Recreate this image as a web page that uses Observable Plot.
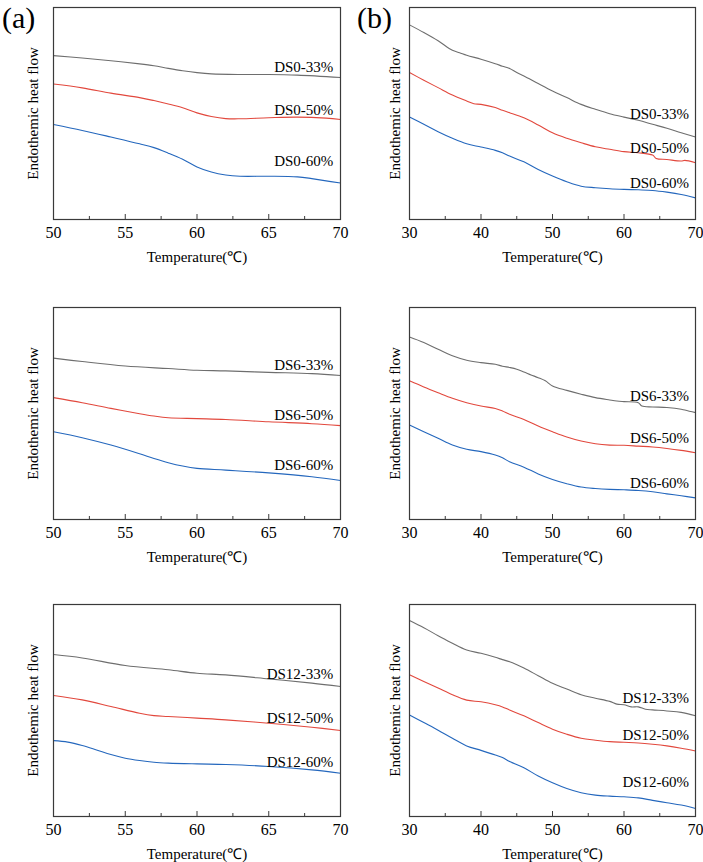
<!DOCTYPE html>
<html><head><meta charset="utf-8">
<script src="https://cdn.jsdelivr.net/npm/d3@7"></script>
<script src="https://cdn.jsdelivr.net/npm/@observablehq/plot@0.6"></script>
<style>
body{margin:0;background:#fff;}
#wrap{position:relative;width:703px;height:862px;overflow:hidden;font-family:"Liberation Serif","Times New Roman",serif;color:#000;}
.p{position:absolute;}
.p svg, .p svg text{font-family:"Liberation Serif","Times New Roman",serif !important;}
.tag{position:absolute;font-size:30px;line-height:36px;font-family:"Liberation Serif","Times New Roman",serif;}
</style></head><body><div id="wrap"></div>
<script>
// ---------- tick labels ----------
const ticksA = [50, 55, 60, 65, 70];
const minorA = [52.5, 57.5, 62.5, 67.5];
const ticksB = [30, 40, 50, 60, 70];
const minorB = [35, 45, 55, 65];
const xTitle = "Temperature(℃)";
const yTitle = "Endothemic heat flow";
const seriesColors = ["#6e6e6e", "#e2483d", "#2467bd"];

// ---------- panel (a) DS0 ----------
const a1_33 = [[50,77.3],[52,76.2],[54,74.9],[56,73.4],[57,72.5],[58,71.3],[59,70.2],[60,69.3],[61,68.7],[63,68.4],[65,68.4],[67,68.1],[70,67.0]];
const a1_50 = [[50,63.9],[52,62.1],[54,59.6],[56,57.5],[57,56.1],[58,54.5],[59,52.7],[60,50.3],[61,48.6],[62,47.6],[63,47.5],[65,48.0],[67,48.3],[69,47.8],[70,47.2]];
const a1_60 = [[50,44.8],[52,42.0],[54,38.9],[56,35.7],[57,33.9],[58,31.3],[59,28.4],[60,24.8],[61,22.4],[62,21.0],[63,20.4],[65,20.4],[67,20.1],[68,19.3],[70,17.2]];
const a1_labels = ["DS0-33%", "DS0-50%", "DS0-60%"];
const a1_labelY = [71.8, 51.4, 27.6];

// ---------- panel (b) DS0 ----------
const b1_33 = [[30,91.8],[32,88.2],[34,84.3],[36,79.8],[37,78.7],[38,77.5],[40,75.6],[42,73.5],[43,72.3],[44,71.2],[45,69.3],[46,67.7],[48,64.1],[50,60.6],[52,57.5],[54,54.3],[56,52.0],[58,49.9],[60,48.3],[62,46.8],[64,44.9],[66,43.0],[68,40.9],[70,38.9]];
const b1_50 = [[30,69.3],[32,65.7],[34,62.2],[36,58.7],[38,55.9],[39,54.6],[40,54.3],[42,52.8],[43,51.5],[44,50.4],[46,48.0],[48,44.6],[50,40.9],[52,38.3],[54,36.2],[56,34.3],[58,33.1],[60,32.0],[62,31.5],[64,30.4],[64.5,28.8],[66,28.3],[68,27.6],[68.5,27.9],[70,26.8]];
const b1_60 = [[30,48.3],[32,44.9],[34,41.4],[36,38.3],[38,35.7],[40,34.2],[42,32.6],[43,31.5],[44,29.9],[46,27.2],[48,23.6],[50,20.5],[52,17.8],[54,15.7],[56,15.0],[58,14.5],[60,14.2],[62,14.0],[64,13.7],[66,12.9],[68,11.8],[70,10.2]];
const b1_labels = ["DS0-33%", "DS0-50%", "DS0-60%"];
const b1_labelY = [49.9, 33.5, 16.9];

// ---------- panel (a) DS6 ----------
const a2_33 = [[50,76.1],[52,74.5],[55,72.4],[58,71.2],[60,70.4],[62,70.1],[65,69.4],[68,68.8],[70,67.9]];
const a2_50 = [[50,57.5],[52,55.1],[54,52.4],[56,49.9],[57,48.8],[58,48.0],[60,47.6],[62,47.2],[65,46.1],[68,45.2],[70,44.3]];
const a2_60 = [[50,41.4],[52,38.6],[54,35.1],[56,31.0],[57,28.8],[58,26.8],[59,25.2],[60,24.1],[62,23.3],[65,22.0],[68,20.2],[70,18.4]];
const a2_labels = ["DS6-33%", "DS6-50%", "DS6-60%"];
const a2_labelY = [72.9, 49.1, 25.7];

// ---------- panel (b) DS6 ----------
const b2_33 = [[30,86.1],[32,83.5],[34,80.3],[36,77.2],[38,75.1],[40,74.0],[42,73.2],[43,72.3],[44,71.7],[45,70.9],[46,69.6],[47,68.2],[48,66.9],[49,65.4],[50,63.0],[52,60.9],[54,59.1],[56,57.5],[58,56.4],[59,55.9],[60,55.6],[62,55.1],[62.5,53.5],[64,53.1],[66,52.8],[68,52.0],[70,50.4]];
const b2_50 = [[30,65.4],[32,62.5],[34,59.8],[36,57.2],[38,55.1],[40,53.5],[42,52.4],[43,51.2],[44,49.6],[46,47.2],[48,44.1],[50,41.4],[52,38.9],[54,37.0],[56,35.7],[58,35.1],[60,35.0],[62,34.6],[64,34.2],[66,33.5],[68,32.6],[70,31.5]];
const b2_60 = [[30,44.6],[32,41.4],[34,38.3],[36,35.1],[38,33.1],[40,32.0],[42,30.4],[43,29.1],[44,27.2],[46,24.7],[48,21.5],[50,18.9],[52,16.9],[54,15.3],[56,14.6],[58,14.2],[60,14.0],[62,13.7],[64,13.1],[66,12.1],[68,11.2],[70,10.2]];
const b2_labels = ["DS6-33%", "DS6-50%", "DS6-60%"];
const b2_labelY = [58.3, 38.3, 16.9];

// ---------- panel (a) DS12 ----------
const a3_33 = [[50,76.4],[52,74.8],[55,71.2],[58,69.2],[60,67.6],[62,66.8],[65,64.9],[68,62.9],[70,61.3]];
const a3_50 = [[50,57.1],[52,55.0],[54,51.9],[56,48.7],[57,47.6],[58,47.2],[60,46.4],[62,45.6],[65,44.0],[68,42.1],[70,40.6]];
const a3_60 = [[50,35.8],[51,35.1],[52,33.5],[53,31.4],[54,29.2],[55,27.5],[56,26.4],[57,25.6],[58,25.2],[60,24.8],[62,24.5],[65,23.6],[68,22.0],[70,20.4]];
const a3_labels = ["DS12-33%", "DS12-50%", "DS12-60%"];
const a3_labelY = [67.3, 46.4, 25.6];

// ---------- panel (b) DS12 ----------
const b3_33 = [[30,92.4],[32,89.0],[34,85.3],[36,81.7],[38,78.5],[40,77.0],[42,75.1],[43,74.0],[44,73.0],[46,70.0],[48,66.4],[50,62.8],[52,60.1],[54,57.4],[56,55.8],[58,54.3],[59,53.0],[60,52.7],[61,51.7],[62,51.7],[63,50.6],[64,50.3],[66,49.8],[68,49.1],[70,47.5]];
const b3_50 = [[30,66.9],[32,63.7],[34,60.6],[36,57.4],[38,54.9],[40,54.1],[42,52.7],[43,51.7],[44,50.2],[46,47.5],[48,44.3],[50,41.2],[52,38.8],[54,36.9],[56,36.0],[58,35.3],[60,35.0],[62,34.7],[64,34.1],[66,33.3],[68,32.2],[70,30.9]];
const b3_60 = [[30,47.9],[32,44.3],[34,40.7],[36,36.9],[38,33.3],[40,31.2],[42,29.0],[43,27.8],[44,25.9],[46,23.0],[48,19.1],[50,15.9],[52,13.2],[54,11.2],[56,10.1],[58,9.6],[60,9.3],[62,8.8],[64,7.6],[66,6.5],[68,5.4],[70,3.8]];
const b3_labels = ["DS12-33%", "DS12-50%", "DS12-60%"];
const b3_labelY = [55.8, 38.5, 16.4];

const panelTags = ["(a)", "(b)"];
const labelXA = 69.5;
const labelXB = 69.1;

// ---------- layout ----------
const FONT = '"Liberation Serif","Times New Roman",serif';
const rowsTop = [0, 300, 597];
const colA = {left: 0, width: 351, ml: 53, mr: 11, domain: [50, 70], ticks: ticksA, minor: minorA, labelX: labelXA, ydx: -20};
const colB = {left: 351, width: 352, ml: 58, mr: 8, domain: [30, 70], ticks: ticksB, minor: minorB, labelX: labelXB, ydx: -14};

const panelDefs = [
  {col: colA, row: 0, series: [a1_33, a1_50, a1_60], labels: a1_labels, labelY: a1_labelY},
  {col: colB, row: 0, series: [b1_33, b1_50, b1_60], labels: b1_labels, labelY: b1_labelY},
  {col: colA, row: 1, series: [a2_33, a2_50, a2_60], labels: a2_labels, labelY: a2_labelY},
  {col: colB, row: 1, series: [b2_33, b2_50, b2_60], labels: b2_labels, labelY: b2_labelY},
  {col: colA, row: 2, series: [a3_33, a3_50, a3_60], labels: a3_labels, labelY: a3_labelY},
  {col: colB, row: 2, series: [b3_33, b3_50, b3_60], labels: b3_labels, labelY: b3_labelY}
];

const wrap = document.getElementById("wrap");

for (const p of panelDefs) {
  const c = p.col;
  const labelData = p.labels.map((t, i) => ({t, y: p.labelY[i]}));
  const marks = [];
  p.series.forEach((s, i) => {
    marks.push(Plot.line(s, {x: d => d[0], y: d => d[1], stroke: seriesColors[i], strokeWidth: 1.1, curve: "catmull-rom"}));
  });
  marks.push(Plot.text(labelData, {x: () => c.labelX, y: d => d.y, text: d => d.t, textAnchor: "end", fontSize: 15, fontFamily: FONT, fill: "#000"}));
  marks.push(Plot.frame({stroke: "#3a3a3a", strokeWidth: 1.2}));
  marks.push(Plot.axisX(c.ticks, {tickSize: -5, tickFormat: () => "", stroke: "#3a3a3a", label: null}));
  marks.push(Plot.axisX(c.minor, {tickSize: -3, tickFormat: () => "", stroke: "#3a3a3a", label: null}));
  marks.push(Plot.axisX(c.ticks, {tickSize: 0, tickPadding: 7, fontSize: 16, fontFamily: FONT, fill: "#000", label: null}));
  marks.push(Plot.text([xTitle], {frameAnchor: "bottom", textAnchor: "middle", lineAnchor: "middle", dy: 38, fontSize: 15, fontFamily: FONT, fill: "#000"}));
  marks.push(Plot.text([yTitle], {frameAnchor: "left", textAnchor: "middle", lineAnchor: "middle", dx: c.ydx, rotate: -90, fontSize: 15, fontFamily: FONT, fill: "#000"}));

  const chart = Plot.plot({
    width: c.width,
    height: 264,
    marginTop: 7,
    marginBottom: 45,
    marginLeft: c.ml,
    marginRight: c.mr,
    x: {domain: c.domain, label: null},
    y: {domain: [0, 100], axis: null},
    style: {fontFamily: FONT, fontSize: "16px", color: "#000", background: "transparent", overflow: "visible"},
    marks
  });
  const div = document.createElement("div");
  div.className = "p";
  div.style.left = c.left + "px";
  div.style.top = rowsTop[p.row] + "px";
  div.appendChild(chart);
  wrap.appendChild(div);
}

const tagPos = [[2, 0], [357, 0]];
panelTags.forEach((t, i) => {
  const d = document.createElement("div");
  d.className = "tag";
  d.textContent = t;
  d.style.left = tagPos[i][0] + "px";
  d.style.top = tagPos[i][1] + "px";
  wrap.appendChild(d);
});
</script></body></html>
